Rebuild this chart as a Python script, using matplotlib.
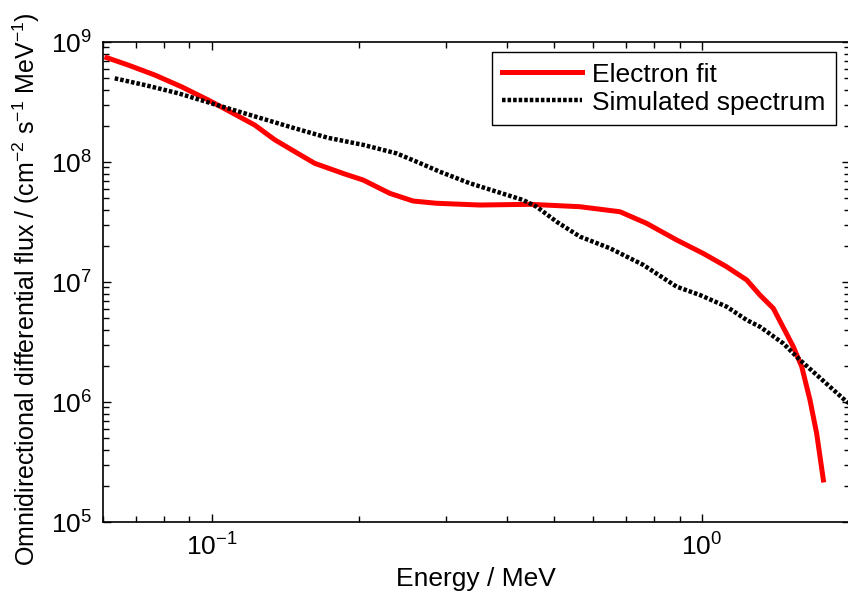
import matplotlib
matplotlib.use("Agg")
import matplotlib.pyplot as plt

plt.rcParams['font.family'] = ['Liberation Sans', 'DejaVu Sans']
plt.rcParams['mathtext.fontset'] = 'custom'
plt.rcParams['mathtext.rm'] = 'Liberation Sans'
plt.rcParams['mathtext.it'] = 'Liberation Sans'
plt.rcParams['mathtext.bf'] = 'Liberation Sans'
plt.rcParams['axes.unicode_minus'] = False

# Electron fit
fit_energy = [0.0611, 0.0675, 0.0765, 0.0867, 0.0983, 0.108, 0.1224, 0.1345, 0.1477,
              0.1622, 0.1868, 0.2036, 0.2308, 0.2575, 0.2874, 0.3523, 0.4457, 0.5636,
              0.6804, 0.7711, 0.888, 1.006, 1.123, 1.234, 1.313, 1.398, 1.536, 1.598,
              1.661, 1.714, 1.769]
fit_flux = [7.40e8, 6.43e8, 5.31e8, 4.24e8, 3.29e8, 2.68e8, 2.03e8, 1.53e8, 1.22e8,
            9.75e7, 7.94e7, 7.08e7, 5.48e7, 4.73e7, 4.53e7, 4.38e7, 4.44e7, 4.24e7,
            3.85e7, 3.08e7, 2.24e7, 1.73e7, 1.34e7, 1.04e7, 7.79e6, 6.04e6, 2.89e6,
            1.97e6, 1.04e6, 5.48e5, 2.24e5]

# Simulated spectrum
sim_energy = [0.0634, 0.0730, 0.0854, 0.0999, 0.1263, 0.1477, 0.1727, 0.2036, 0.2382,
              0.2617, 0.2919, 0.3361, 0.3811, 0.4318, 0.4599, 0.5052, 0.5636, 0.6492,
              0.7588, 0.888, 0.9906, 1.123, 1.234, 1.313, 1.465, 1.585, 1.973, 2.05]
sim_flux = [4.98e8, 4.38e8, 3.74e8, 3.08e8, 2.31e8, 1.91e8, 1.59e8, 1.39e8, 1.18e8,
            1.006e8, 8.30e7, 6.65e7, 5.66e7, 4.82e7, 4.24e7, 3.18e7, 2.39e7, 1.91e7,
            1.39e7, 9.14e6, 7.79e6, 6.23e6, 4.82e6, 4.24e6, 3.08e6, 2.24e6, 1.006e6, 9.3e5]

fig = plt.figure(figsize=(8.48, 5.96), dpi=100)
ax = fig.add_axes([103/848, 74/596, (849.5-103)/848, 480/596])

ax.plot(fit_energy, fit_flux, color='#ff0000', lw=3.6, label='Electron fit',
        solid_joinstyle='round')
ax.plot(sim_energy, sim_flux, color='black', lw=3.2, linestyle=(0, (0.8, 0.45)),
        dash_capstyle='butt', label='Simulated spectrum')

ax.set_xscale('log')
ax.set_yscale('log')
ax.set_xlim(0.06, 2.0)
ax.set_ylim(1e5, 1e9)

ax.tick_params(which='both', direction='in', top=True, right=True, width=1,
               labelsize=19, pad=8)
ax.tick_params(which='major', length=6)
ax.tick_params(which='minor', length=4)
for s in ax.spines.values():
    s.set_linewidth(1.2)

ax.set_xlabel('Energy / MeV', fontsize=19, labelpad=5)
ax.set_ylabel('Omnidirectional differential flux / (cm$^{-2}$ s$^{-1}$ MeV$^{-1}$)',
              fontsize=18, labelpad=6)
ax.yaxis.label.set_y(0.485)

leg = ax.legend(loc='upper right', fontsize=19, frameon=True, fancybox=False,
                edgecolor='black', framealpha=1, handlelength=3.0, handletextpad=0.4,
                borderpad=0.4, labelspacing=0.15, borderaxespad=0.0,
                bbox_to_anchor=((836 - 103) / 746.5, 1 - 10 / 480))
leg.get_frame().set_linewidth(1.0)

fig.savefig('out.png', dpi=100)
